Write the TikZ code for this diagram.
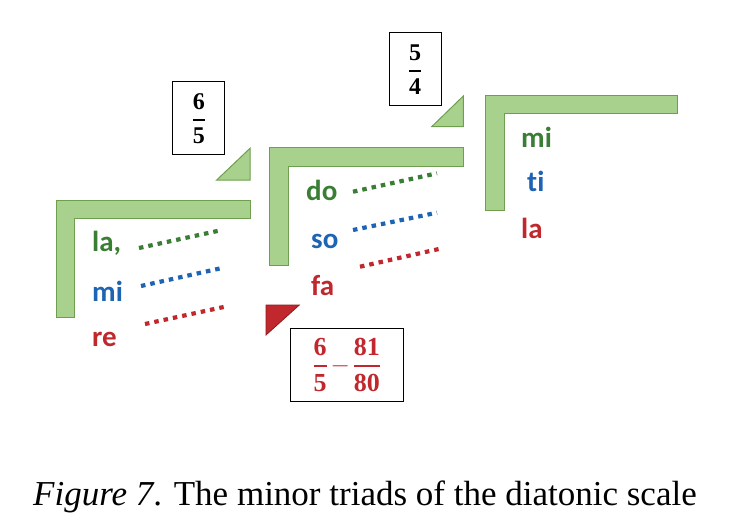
\documentclass[tikz,border=0pt]{standalone}
\usepackage{fontspec}
\usepackage{amsmath}
\setmainfont{Liberation Serif}
\newfontfamily\lblfont{Carlito}[Ligatures=NoCommon]
\definecolor{lfill}{HTML}{A9D18E}
\definecolor{lborder}{HTML}{6E9E4E}
\definecolor{tgreen}{HTML}{3A7D34}
\definecolor{tblue}{HTML}{1E64B4}
\definecolor{tred}{HTML}{C0282D}
\definecolor{dred}{HTML}{8E1A1E}
\newcommand{\bfr}[2]{\genfrac{}{}{2.2pt}{0}{\text{\bfseries #1}}{\text{\bfseries #2}}}
\begin{document}
\begin{tikzpicture}[x=1pt,y=-1pt,
  lshape/.style={fill=lfill, draw=lborder, line width=1pt, line join=miter},
  lbl/.style={font=\lblfont\bfseries\fontsize{29}{31}\selectfont, anchor=base west, inner sep=0pt},
  dots/.style={line width=4.2pt, dash pattern=on 4.5pt off 5pt},
  fracbox/.style={draw=black, line width=1pt, minimum width=52pt, minimum height=73pt, inner sep=0pt, font=\fontsize{24}{28}\selectfont}]
\useasboundingbox (0,0) rectangle (739,528);
% L shapes
\draw[lshape] (56,200) -- (250,200) -- (250,218) -- (74.3,218) -- (74.3,317) -- (56,317) -- cycle;
\draw[lshape] (269.3,147.3) -- (463.3,147.3) -- (463.3,166) -- (288.3,166) -- (288.3,265) -- (269.3,265) -- cycle;
\draw[lshape] (485,95) -- (677.7,95) -- (677.7,113.3) -- (504,113.3) -- (504,210.7) -- (485,210.7) -- cycle;
% triangles
\draw[lshape] (216.7,180) -- (250,180) -- (250,148.3) -- cycle;
\draw[lshape] (431.7,126.7) -- (463.3,126.7) -- (463.3,96) -- cycle;
\draw[fill=tred, draw=dred, line width=0.8pt] (266,305) -- (299.3,305) -- (266,335) -- cycle;
% boxes
\node[fracbox] (f65) at (198.8,118.3) {$\bfr{6}{5}$};
\node[fracbox] (f54) at (415,69.3) {$\bfr{5}{4}$};
\node[fracbox, minimum width=113pt, text=tred, font=\fontsize{26}{30}\selectfont] (fr) at (346.7,365) {$\bfr{6}{5}\mkern-2mu-\mkern-2mu\bfr{81}{80}$};
% labels group 1
\node[lbl, text=tgreen] (la1) at (92,251.7) {la,};
\node[lbl, text=tblue] (mi1) at (92,301.7) {mi};
\node[lbl, text=tred] (re1) at (92,346.7) {re};
% labels group 2
\node[lbl, text=tgreen] (do2) at (306,200) {do};
\node[lbl, text=tblue] (so2) at (311,248.3) {so};
\node[lbl, text=tred] (fa2) at (311,295) {fa};
% labels group 3
\node[lbl, text=tgreen] (mi3) at (521,147.5) {mi};
\node[lbl, text=tblue] (ti3) at (527,191.7) {ti};
\node[lbl, text=tred] (la3) at (521,238.3) {la};
% dotted lines
\coordinate (g1a) at (139,248); \coordinate (g1b) at (222,230);
\coordinate (b1a) at (141,286); \coordinate (b1b) at (222,268);
\coordinate (r1a) at (145,324); \coordinate (r1b) at (225,306.7);
\coordinate (g2a) at (353,191.7); \coordinate (g2b) at (437,173.3);
\coordinate (b2a) at (353,230); \coordinate (b2b) at (437,212.7);
\coordinate (r2a) at (360,266.7); \coordinate (r2b) at (442,248.3);
\draw[dots, tgreen] (g1a) -- (g1b);
\draw[dots, tblue] (b1a) -- (b1b);
\draw[dots, tred] (r1a) -- (r1b);
\draw[dots, tgreen] (g2a) -- (g2b);
\draw[dots, tblue] (b2a) -- (b2b);
\draw[dots, tred] (r2a) -- (r2b);
% caption
\node[anchor=base, inner sep=0pt, font=\fontsize{35}{40}\selectfont] (cap) at (365,505) {\textit{Figure 7}. The minor triads of the diatonic scale};
\end{tikzpicture}
\end{document}
